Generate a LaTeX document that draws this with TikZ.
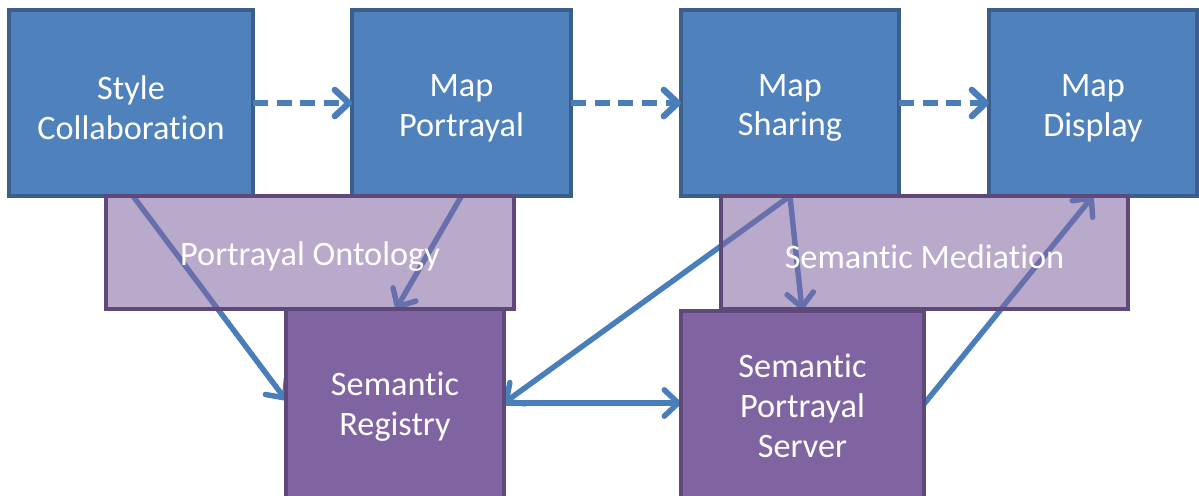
\documentclass[tikz,border=0pt]{standalone}
\usepackage{fontspec}
\setmainfont[Ligatures=NoCommon]{Carlito}
\usetikzlibrary{arrows.meta}
\definecolor{bfill}{HTML}{4F81BD}
\definecolor{bdraw}{HTML}{3A5F8C}
\definecolor{pfill}{HTML}{8064A2}
\definecolor{pdraw}{HTML}{5F497A}
\definecolor{arr}{HTML}{4A7EBB}
\tikzset{
  wh/.style 2 args={minimum width=#1*0.02cm, minimum height=#2*0.02cm},
  basebox/.style={rectangle, inner sep=0pt, outer sep=0pt, line width=1.8pt, text=white, align=center,
    font=\fontsize{19.5pt}{22.7pt}\selectfont},
  bluebox/.style={basebox, fill=bfill, draw=bdraw},
  lightbox/.style={basebox, fill=pfill, fill opacity=0.55, text opacity=1, draw=pdraw, draw opacity=1},
  darkbox/.style={basebox, fill=pfill, draw=pdraw},
  conn/.style={draw=arr, line width=3.1pt, line cap=round,
    -{Straight Barb[length=8pt,width=15pt,line cap=round,line join=round]}},
  dconn/.style={conn, line width=3.6pt, line cap=butt, dash pattern=on 8.5pt off 5pt},
}
\begin{document}
\begin{tikzpicture}[x=0.02cm,y=-0.02cm]
\useasboundingbox (0,0) rectangle (1199,495);
% top row
\node[bluebox, wh={244}{186}] (sc) at (131,103) {};
\node[bluebox, wh={219}{186}] (mp) at (461.5,103) {};
\node[bluebox, wh={218}{186}] (ms) at (790,103) {};
\node[bluebox, wh={208}{186}] (md) at (1093,103) {};
\node[basebox] (sct) at (131,108) {Style\\Collaboration};
\node[basebox] (mpt) at (461.5,108) {Map\\Portrayal};
\node[basebox] (mst) at (790,108) {Map\\Sharing};
\node[basebox] (mdt) at (1093,108) {Map\\Display};
% connectors
\draw[dconn] (sc.east) -- (mp.west);
\draw[dconn] (mp.east) -- (ms.west);
\draw[dconn] (ms.east) -- (md.west);
\coordinate (sr-n) at (396,309);
\coordinate (sr-w) at (286,400);
\coordinate (sr-e) at (504,403);
\coordinate (sps-n) at (802,310);
\coordinate (sps-w) at (681,403);
\coordinate (sps-e) at (924,404);
\draw[conn] (sc.south) ++(2,0) -- (sr-w);
\draw[conn] (mp.south) -- (sr-n);
\draw[conn] (ms.south) -- (sr-e);
\draw[conn] (ms.south) -- (sps-n);
\draw[conn] (sr-e) -- (sps-w);
\draw[conn] (sps-e) -- (md.south);
% middle layer
\node[lightbox, wh={408}{113}] (po) at (310,252.5) {};
\node[lightbox, wh={407}{113}] (smed) at (924.5,252.5) {};
\node[basebox] (pot) at (310,257) {Portrayal Ontology};
\node[basebox] (smt) at (924.5,257) {Semantic Mediation};
% bottom row
\node[darkbox, wh={218}{192}] (sr) at (395,405) {};
\node[darkbox, wh={243}{190}] (sps) at (802.5,406) {};
\node[basebox] (srt) at (395,407) {Semantic\\Registry};
\node[basebox] (spst) at (802.5,406) {Semantic\\Portrayal\\Server};
\end{tikzpicture}
\end{document}
